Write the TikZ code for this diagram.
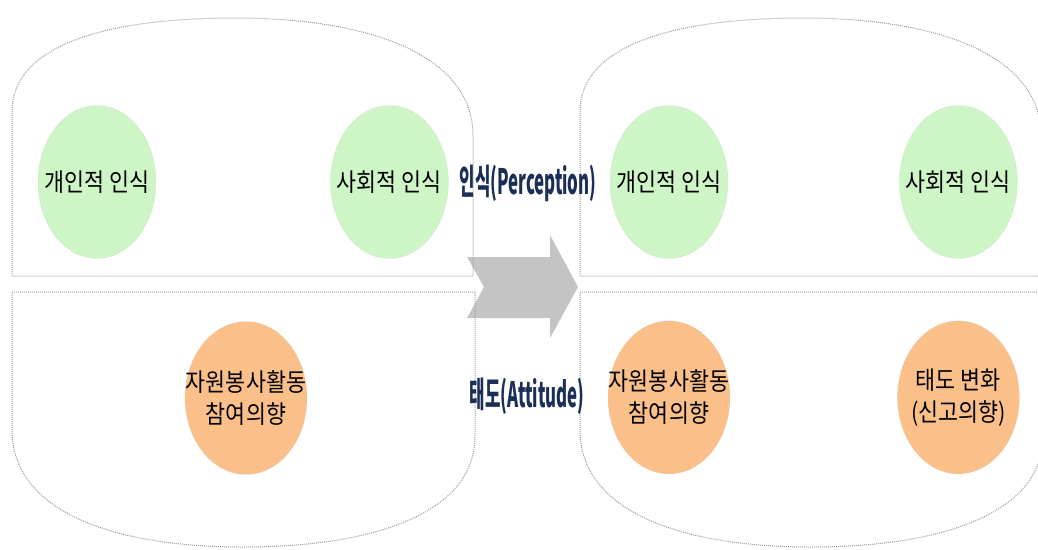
\documentclass[tikz,border=0pt]{standalone}
\usepackage{fontspec}
\usepackage{tikz}
\usetikzlibrary{positioning, shapes.geometric}
\newfontfamily\kfont[FakeStretch=0.87]{Noto Sans CJK KR}
\newfontfamily\headfont[FakeStretch=0.48]{Noto Sans CJK KR}
\definecolor{ovalgreen}{RGB}{206,245,198}
\definecolor{ovalorange}{RGB}{251,192,138}
\definecolor{headblue}{RGB}{26,46,88}
\definecolor{arrowgray}{RGB}{196,196,196}
\tikzset{
	frame/.style={densely dotted, draw=gray!75, line width=1pt},
	oval/.style={
		ellipse,
		draw=gray!45,
		densely dotted,
		minimum width=118pt,
		minimum height=153pt,
		inner xsep=-20pt,
		inner ysep=0pt,
		align=center,
		font=\kfont\fontsize{25}{32}\selectfont
	},
	green oval/.style={oval, fill=ovalgreen},
	orange oval/.style={oval, fill=ovalorange, minimum width=122pt},
	heading/.style={
		text=headblue,
		font=\headfont\bfseries\fontsize{35}{35}\selectfont
	}
}
\newcommand{\frameset}[1]{% horizontal shift of one dome and bowl pair
	\begin{scope}[xshift=#1]
	\draw[frame] (12,276) -- (12,112) .. controls (12,40) and (120,18) .. (235,18)
		.. controls (370,18) and (473,55) .. (473,136) -- (473,276) -- cycle;
	\draw[frame] (12,292) -- (475,292) -- (475,436) .. controls (475,515) and (370,547) .. (243,547)
		.. controls (110,547) and (12,510) .. (12,430) -- cycle;
	\end{scope}
}

\begin{document}
\begin{tikzpicture}[x=1pt, y=-1pt]
	\clip (0,0) rectangle (1038,549);
	\fill[white] (0,0) rectangle (1038,549);

	\fill[arrowgray] (467,257) -- (550,257) -- (550,235) -- (578,287) -- (550,338)
		-- (550,318) -- (467,318) -- (484,287) -- cycle;

	\frameset{0}
	\frameset{568}

	\node[green oval] (pers1) at (97,182) {개인적 인식};
	\node[green oval, right=174pt of pers1] (soc1) {사회적 인식};
	\node[orange oval] (vol1) at (246,398) {자원봉사활동\\참여의향};

	\node[green oval] (pers2) at (669,182) {개인적 인식};
	\node[green oval, right=171pt of pers2] (soc2) {사회적 인식};
	\node[orange oval, below=62pt of pers2] (vol2) {자원봉사활동\\참여의향};
	\node[orange oval, right=167pt of vol2] (change) {태도 변화\\(신고의향)};

	\node[heading] (perc) at (528,183) {인식(Perception)};
	\node[heading] (att) at (527,396) {태도(Attitude)};
\end{tikzpicture}
\end{document}
